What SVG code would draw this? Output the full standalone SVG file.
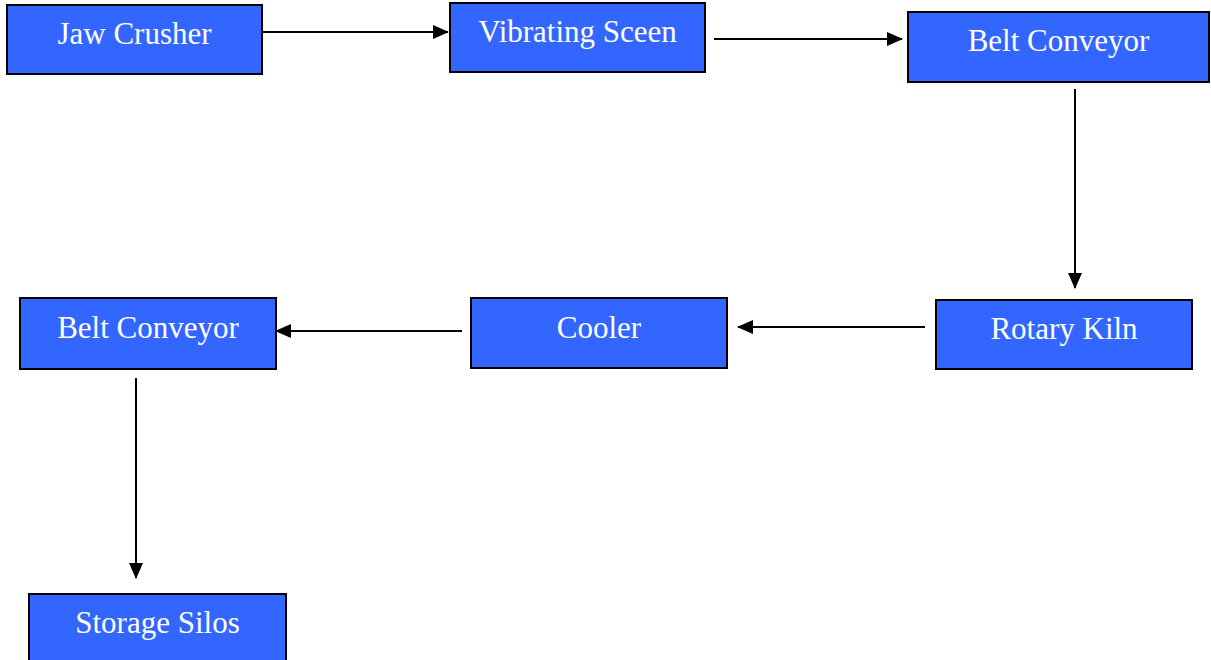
<svg xmlns="http://www.w3.org/2000/svg" width="1211" height="660" viewBox="0 0 1211 660">
<style>
.box{fill:#3366FF;stroke:#000;stroke-width:2}
.lbl{fill:#fff;font-family:"Liberation Serif","Times New Roman",serif;font-size:31px;text-anchor:middle}
.con{stroke:#000;stroke-width:2;fill:none;marker-end:url(#ah)}
</style>
<defs>
<marker id="ah" markerWidth="16" markerHeight="14" refX="15" refY="7" orient="auto" markerUnits="userSpaceOnUse">
<path d="M0,0 L16,7 L0,14 Z" fill="#000"/>
</marker>
</defs>
<rect width="1211" height="660" fill="#fff"/>
<g id="connectors">
<line class="con" x1="263" y1="32" x2="448" y2="32"/>
<line class="con" x1="714" y1="39" x2="902" y2="39"/>
<line class="con" x1="1075" y1="89" x2="1075" y2="288"/>
<line class="con" x1="925" y1="327" x2="738" y2="327"/>
<line class="con" x1="462" y1="331" x2="276" y2="331"/>
<line class="con" x1="136" y1="378" x2="136" y2="578"/>
</g>
<g id="jaw-crusher"><rect class="box" x="7" y="5" width="255" height="69"/><text class="lbl" x="134.5" y="44">Jaw Crusher</text></g>
<g id="vibrating-sceen"><rect class="box" x="450" y="3" width="255" height="69"/><text class="lbl" x="577.5" y="42">Vibrating Sceen</text></g>
<g id="belt-conveyor-1"><rect class="box" x="908" y="12" width="301" height="70"/><text class="lbl" x="1058.5" y="51">Belt Conveyor</text></g>
<g id="rotary-kiln"><rect class="box" x="936" y="300" width="256" height="69"/><text class="lbl" x="1064" y="339">Rotary Kiln</text></g>
<g id="cooler"><rect class="box" x="471" y="298" width="256" height="70"/><text class="lbl" x="599" y="338">Cooler</text></g>
<g id="belt-conveyor-2"><rect class="box" x="20" y="298" width="256" height="71"/><text class="lbl" x="148" y="338">Belt Conveyor</text></g>
<g id="storage-silos"><rect class="box" x="29" y="594" width="257" height="70"/><text class="lbl" x="157.5" y="633">Storage Silos</text></g>
</svg>
